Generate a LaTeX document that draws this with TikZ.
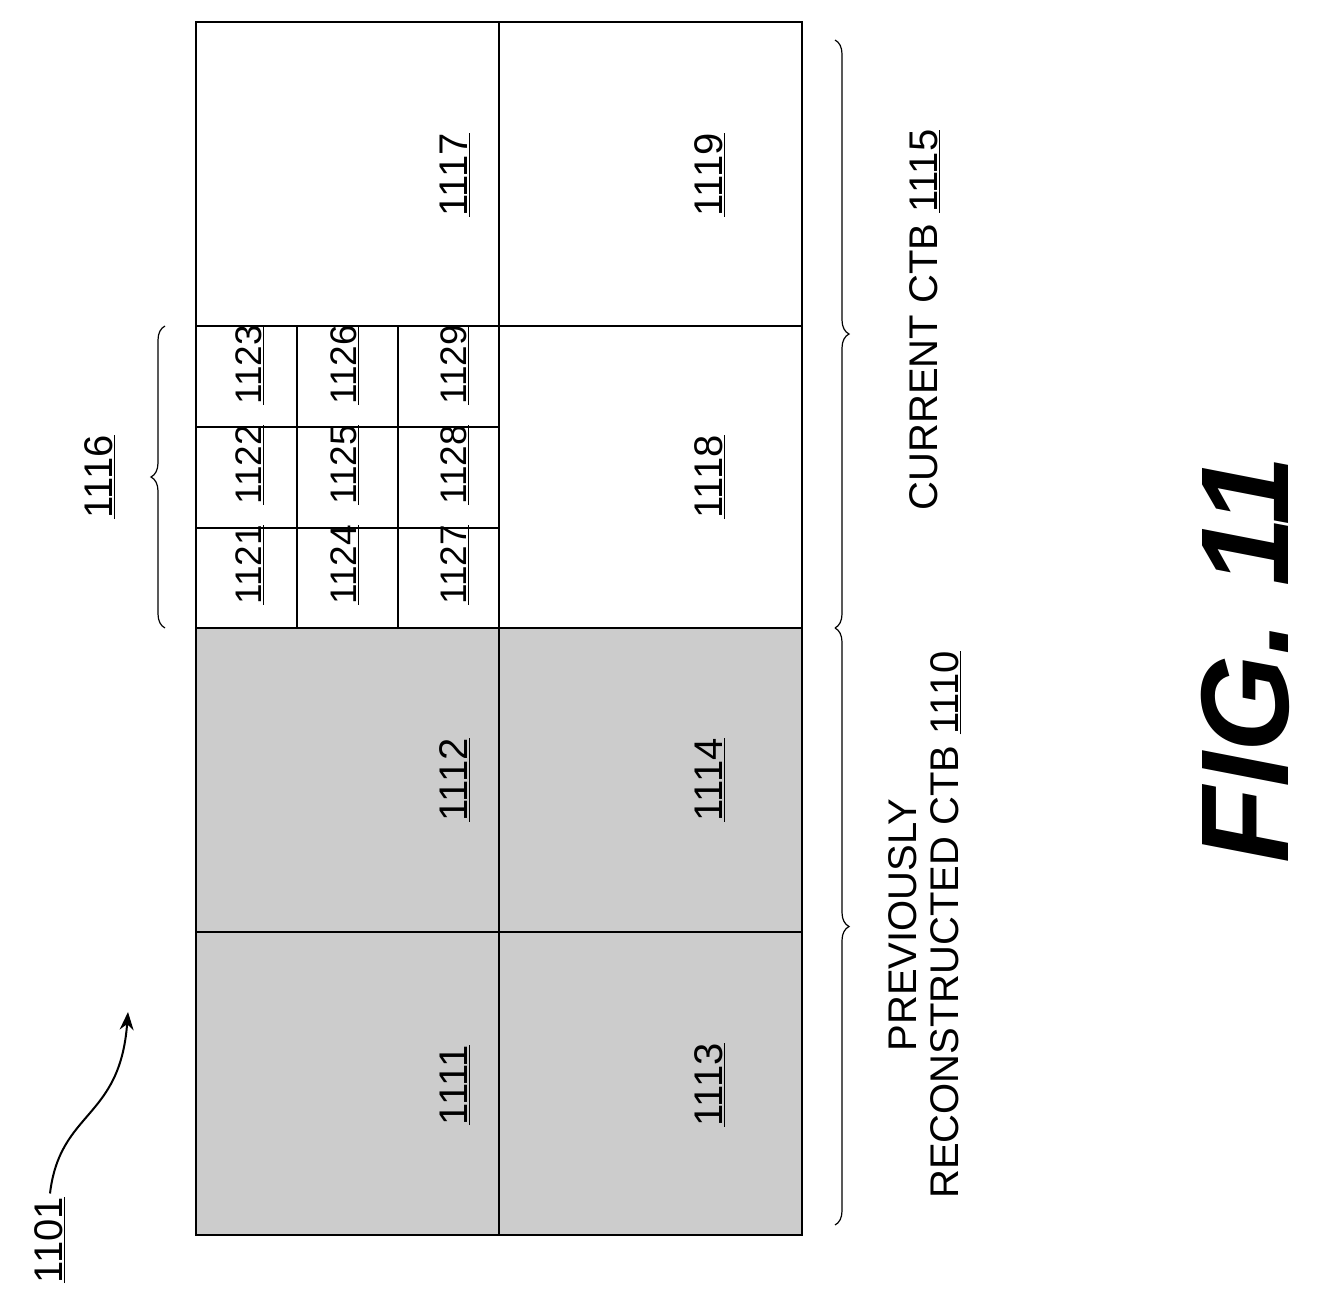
\documentclass[tikz,border=0pt]{standalone}
\usepackage{fontspec}
\setmainfont{Liberation Sans}
\usetikzlibrary{decorations.pathreplacing, arrows.meta}
\begin{document}
\begin{tikzpicture}[
      x=1pt, y=-1pt,
      cell/.style={draw, line width=2.5pt},
      big/.style={rotate=90, font=\fontsize{40}{42}\selectfont},
      small/.style={rotate=90, font=\fontsize{37}{39}\selectfont},
      brc/.style={decorate, decoration={brace, amplitude=14pt}, line width=1.2pt}
    ]
      \useasboundingbox (0,0) rectangle (1317,1303);
      % Shaded CTB
      \fill[gray!40] (196,628) rectangle (802,1235);
      % Grid
      \draw[cell] (196,22) rectangle (802,1235);
      \draw[cell] (499,22) -- (499,1235);
      \draw[cell] (196,326) -- (802,326);
      \draw[cell] (196,628) -- (802,628);
      \draw[cell] (196,932) -- (802,932);
      \draw[cell] (297,326) -- (297,628);
      \draw[cell] (398,326) -- (398,628);
      \draw[cell] (196,427) -- (499,427);
      \draw[cell] (196,528) -- (499,528);
      % Block labels
      \node[big] (b1117) at (455,175) {\underline{1117}};
      \node[big] (b1119) at (710,175) {\underline{1119}};
      \node[big] (b1118) at (710,477) {\underline{1118}};
      \node[big] (b1112) at (455,780) {\underline{1112}};
      \node[big] (b1114) at (710,780) {\underline{1114}};
      \node[big] (b1111) at (455,1085) {\underline{1111}};
      \node[big] (b1113) at (710,1085) {\underline{1113}};
      \foreach \n/\x/\y in {1121/250/565, 1122/250/465, 1123/250/365,
                            1124/345/565, 1125/345/465, 1126/345/365,
                            1127/455/565, 1128/455/465, 1129/455/365}
        \node[small] (s\n) at (\x,\y) {\underline{\n}};
      % Braces
      \draw[brc] (165,628) -- (165,326);
      \node[big] (l1116) at (100,477) {\underline{1116}};
      \draw[brc] (835,40) -- (835,628);
      \draw[brc] (835,628) -- (835,1225);
      \node[big] (l1115) at (925,320) {CURRENT CTB \underline{1115}};
      \node[big, align=center] (l1110) at (925,925) {PREVIOUSLY\\RECONSTRUCTED CTB \underline{1110}};
      % Reference
      \node[big] (l1101) at (50,1240) {\underline{1101}};
      \coordinate (tip) at (128,1012);
      \draw[line width=2pt, -{Stealth[length=18pt,width=14pt]}] (l1101.east) .. controls (60,1110) and (120,1120) .. (tip);
      \node[rotate=90, font=\fontsize{125}{125}\selectfont\bfseries\itshape] (fig) at (1245,660) {FIG. 11};
\end{tikzpicture}
\end{document}
